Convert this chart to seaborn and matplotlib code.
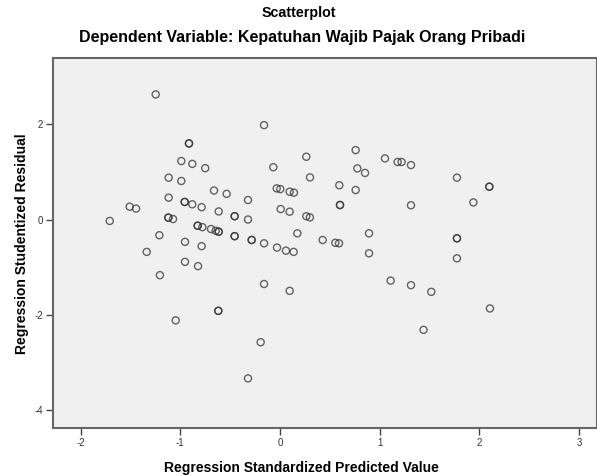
import numpy as np
import pandas as pd
import matplotlib.pyplot as plt
import seaborn as sns

# points (duplicates listed twice)
pred = [-1.247, -0.913, -0.913, -0.99, -0.88, -0.75, -1.117, -0.99, -0.662, -0.535,
        -1.117, -0.956, -0.956, -0.88, -0.786, -1.508, -1.444, -0.615, -1.708, -1.12,
        -1.12, -1.073, -0.826, -0.826, -0.779, -0.692, -0.645, -0.615, -0.615, -1.21,
        -0.953, -0.786, -1.337, -0.953, -0.822, -1.205, -0.619, -0.619, -1.046, -0.16,
        0.759, 1.053, 1.18, 1.22, 1.314, 0.264, -0.067, 0.776, 0.853, 0.301,
        0.595, 0.759, -0.321, -0.033, 0.003, 0.097, 0.14, 0.007, 0.097, 0.264,
        0.30, 0.602, 0.602, -0.455, -0.455, -0.321, -0.455, -0.455, -0.284, -0.284,
        -0.16, 0.174, 0.428, 0.555, 0.592, 0.893, 1.314, -0.03, 0.06, 0.137,
        0.893, -0.16, 0.097, 1.11, 1.314, -0.194, -0.321, 1.775, 1.775, 1.775,
        1.518, 2.106, 1.44, 1.775, 2.10, 2.10, 1.94]
resid = [2.63, 1.60, 1.60, 1.23, 1.17, 1.08, 0.88, 0.81, 0.61, 0.54,
         0.46, 0.37, 0.37, 0.32, 0.26, 0.27, 0.23, 0.17, -0.03, 0.04,
         0.04, 0.01, -0.13, -0.13, -0.16, -0.20, -0.235, -0.256, -0.256, -0.33,
         -0.47, -0.56, -0.68, -0.89, -0.98, -1.17, -1.92, -1.92, -2.12, 1.985,
         1.46, 1.285, 1.21, 1.21, 1.145, 1.32, 1.10, 1.075, 0.98, 0.886,
         0.72, 0.62, 0.41, 0.655, 0.64, 0.585, 0.565, 0.22, 0.165, 0.07,
         0.045, 0.305, 0.305, 0.07, 0.07, 0.00, -0.35, -0.35, -0.43, -0.43,
         -0.50, -0.29, -0.43, -0.49, -0.50, -0.29, 0.30, -0.59, -0.655, -0.68,
         -0.71, -1.355, -1.50, -1.285, -1.38, -2.58, -3.34, -0.395, -0.395, -0.815,
         -1.52, -1.87, -2.32, 0.88, 0.69, 0.69, 0.36]

df = pd.DataFrame({"pred": pred, "resid": resid})

sns.set_style("white")
plt.rcParams['font.family'] = ['Liberation Sans', 'DejaVu Sans']
plt.rcParams['axes.unicode_minus'] = False

fig = plt.figure(figsize=(5.97, 4.76), dpi=100)
ax = fig.add_axes([0.0883, 0.1002, 0.9117, 0.7773])
ax.set_facecolor("#f0f0f0")

sns.scatterplot(data=df, x="pred", y="resid", ax=ax, marker="o", s=26,
                facecolor="none", edgecolor="#333333", linewidth=1.0, alpha=0.75)

ax.set_xlim(-2.28, 3.18)
ax.set_ylim(-4.39, 3.39)
ax.set_xticks([-2, -1, 0, 1, 2, 3])
ax.set_yticks([-4, -2, 0, 2])
ax.tick_params(direction="out", length=5, width=1, color="#444444",
               labelsize=7, labelcolor="#333333", bottom=True, left=True, pad=2)
for side in ["left", "bottom", "top", "right"]:
    ax.spines[side].set_color("#666666")
    ax.spines[side].set_linewidth(1.5)

ax.set_xlabel("Regression Standardized Predicted Value", fontsize=10, fontweight="bold",
              color="black", labelpad=9)
# SPSS centres the x title on the whole chart, not on the plot frame
ax.xaxis.label.set_x(0.457)
ax.set_ylabel("Regression Studentized Residual", fontsize=10, fontweight="bold",
              color="black", labelpad=4)

fig.text(0.5, 0.973, "Scatterplot", ha="center", va="center", fontsize=10.3,
         fontweight="bold", color="black")
fig.text(0.506, 0.921, "Dependent Variable: Kepatuhan Wajib Pajak Orang Pribadi",
         ha="center", va="center", fontsize=11.5, fontweight="bold", color="black")

fig.savefig("out.png", dpi=100)
